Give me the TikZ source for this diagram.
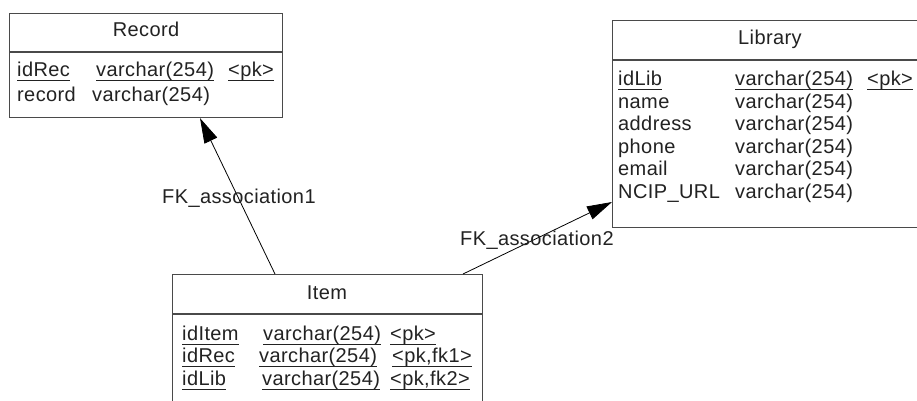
\documentclass[tikz,border=0pt]{standalone}
\usepackage{fontspec}
\setmainfont{Liberation Sans}[LetterSpace=2]
\usetikzlibrary{arrows.meta}
\definecolor{txt}{HTML}{222222}
\definecolor{ln}{HTML}{4A4A4A}
\tikzset{
  tbl/.style={draw=ln, line width=1.1pt, anchor=north west, inner sep=0pt},
  sep/.style={draw=ln, line width=1.1pt},
  cell/.style={anchor=base west, inner sep=0pt, text=txt, font=\fontsize{20}{22}\selectfont},
  title/.style={anchor=base, inner sep=0pt, text=txt, font=\fontsize{20}{22}\selectfont},
  ul/.style={draw=txt, line width=0.9pt},
  fk/.style={draw=black, line width=0.8pt, -{Triangle[length=25pt,width=14pt]}}
}
\newcommand{\uln}[1]{\draw[ul] ([yshift=-4pt]#1.base west) -- ([yshift=-4pt]#1.base east);}
\begin{document}
\begin{tikzpicture}[x=1pt,y=-1pt]
\useasboundingbox (0,0) rectangle (917,400);
\clip (0,0) rectangle (917,400);
\fill[white] (0,0) rectangle (917,400);
% Record
\node[tbl, minimum width=273pt, minimum height=104pt] (rec) at (9,13) {};
\draw[sep] (9,52) -- (282,52);
\node[title] (recT) at (146,36) {Record};
\node[cell] (r1a) at (17,76) {idRec};
\node[cell] (r1b) at (96,76) {varchar(254)};
\node[cell] (r1c) at (228,76) {<pk>};
\node[cell] (r2a) at (17,101) {record};
\node[cell] (r2b) at (92,101) {varchar(254)};
\uln{r1a}\uln{r1b}\uln{r1c}
% Library
\node[tbl, minimum width=330pt, minimum height=207pt] (lib) at (612,20) {};
\draw[sep] (612,60) -- (930,60);
\node[title] (libT) at (770,44) {Library};
\node[cell] (l1a) at (618,85) {idLib};
\node[cell] (l1b) at (735,85) {varchar(254)};
\node[cell] (l1c) at (867,85) {<pk>};
\node[cell] (l2a) at (618,108) {name};
\node[cell] (l2b) at (735,108) {varchar(254)};
\node[cell] (l3a) at (618,130) {address};
\node[cell] (l3b) at (735,130) {varchar(254)};
\node[cell] (l4a) at (618,153) {phone};
\node[cell] (l4b) at (735,153) {varchar(254)};
\node[cell] (l5a) at (618,175) {email};
\node[cell] (l5b) at (735,175) {varchar(254)};
\node[cell] (l6a) at (618,198) {NCIP\_URL};
\node[cell] (l6b) at (735,198) {varchar(254)};
\uln{l1a}\uln{l1b}\uln{l1c}
% Item
\node[tbl, minimum width=310pt, minimum height=150pt] (item) at (172,274) {};
\draw[sep] (172,314) -- (482,314);
\node[title] (itemT) at (327,299) {Item};
\node[cell] (i1a) at (182,340) {idItem};
\node[cell] (i1b) at (263,340) {varchar(254)};
\node[cell] (i1c) at (390,340) {<pk>};
\node[cell] (i2a) at (182,362) {idRec};
\node[cell] (i2b) at (259,362) {varchar(254)};
\node[cell] (i2c) at (392,362) {<pk,fk1>};
\node[cell] (i3a) at (182,385) {idLib};
\node[cell] (i3b) at (262,385) {varchar(254)};
\node[cell] (i3c) at (390,385) {<pk,fk2>};
\uln{i1a}\uln{i1b}\uln{i1c}\uln{i2a}\uln{i2b}\uln{i2c}\uln{i3a}\uln{i3b}\uln{i3c}
% Connectors
\draw[fk] ([xshift=103pt]item.north west) -- ([xshift=191pt]rec.south west);
\draw[fk] ([xshift=291pt]item.north west) -- ([yshift=-182pt]lib.north west);
\node[cell] (fk1) at (162,203) {FK\_association1};
\node[cell] (fk2) at (460,245) {FK\_association2};
\end{tikzpicture}
\end{document}
